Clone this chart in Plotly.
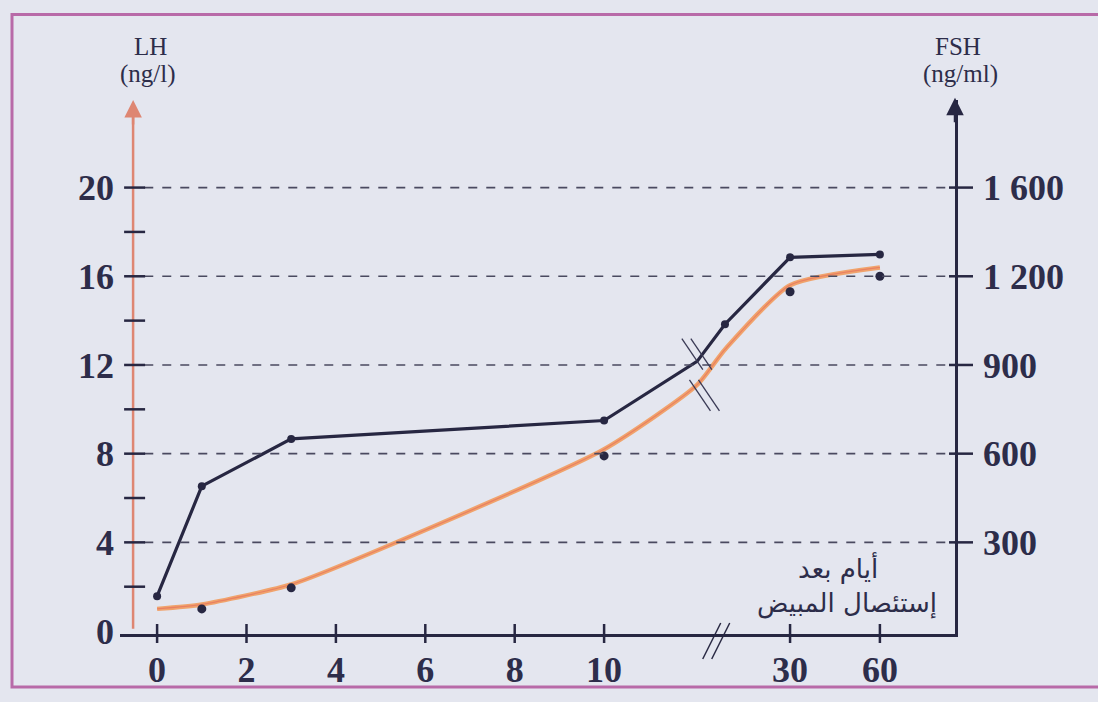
import numpy as np
import plotly.graph_objects as go

# ---- data -------------------------------------------------------------
# days after ovariectomy
fsh_days = [0, 1, 3, 10, 20, 23, 30, 60]
fsh_values = [118, 490, 650, 712, 912, 1038, 1264, 1274]      # ng/ml
fsh_marked = [True, True, True, True, False, True, True, True]

lh_curve_days = [0, 1, 3, 5, 10, 20, 23, 30, 60]
lh_curve_values = [1.0, 1.2, 2.1, 3.7, 8.2, 11.1, 12.7, 15.6, 16.4]  # ng/l
lh_point_days = [1, 3, 10, 30, 60]
lh_point_values = [1.0, 1.95, 7.9, 15.3, 16.0]

x_tick_days = [0, 2, 4, 6, 8, 10, 30, 60]
lh_ticks = [0, 4, 8, 12, 16, 20]
lh_minor = [2, 6, 10, 14, 18]
fsh_ticks = [300, 600, 900, 1200, 1500]
fsh_ticktext = ["300", "600", "900", "1 200", "1 600"]

# ---- broken time scale -----------------------------------------------
POS_30, POS_60 = 14.16, 16.17
BREAK_DAY = 20


def axis_pos(d):
    d = np.asarray(d, dtype=float)
    return np.where(
        d <= 10, d,
        np.where(d <= 30, 10 + (d - 10) * (POS_30 - 10) / 20,
                 POS_30 + (d - 30) * (POS_60 - POS_30) / 30))


FSH_PER_LH = 75.0          # right scale versus left scale
Y_RANGE = [-0.133, 23.95]
X_RANGE = [-0.83, 17.85]
LEFT_AXIS_X = -0.537

NAVY = "#272742"
ORANGE = "#f0a36c"
ORANGE_AXIS = "#de8672"
TXT = "#2d2d4a"
BG = "#e4e6ef"
SERIF = "Liberation Serif"


def px_x(px):
    return (px - 120) / 835


def px_y(py):
    return (643 - py) / 543


fig = go.Figure()

# LH: smoothed curve plus measured points
fig.add_trace(go.Scatter(
    x=axis_pos(lh_curve_days), y=lh_curve_values, mode="lines",
    line=dict(color=ORANGE, width=4.5, shape="spline", smoothing=0.6),
    hoverinfo="skip", showlegend=False))
fig.add_trace(go.Scatter(
    x=axis_pos(lh_curve_days), y=lh_curve_values, mode="lines",
    line=dict(color="#e98062", width=1.2, shape="spline", smoothing=0.6),
    hoverinfo="skip", showlegend=False))
fig.add_trace(go.Scatter(
    x=axis_pos(lh_point_days), y=lh_point_values, mode="markers",
    marker=dict(color=NAVY, size=9), showlegend=False))

# FSH on the right-hand axis
fig.add_trace(go.Scatter(
    x=axis_pos(fsh_days), y=fsh_values, mode="lines", yaxis="y2",
    line=dict(color=NAVY, width=3.2), showlegend=False))
fig.add_trace(go.Scatter(
    x=axis_pos([d for d, m in zip(fsh_days, fsh_marked) if m]),
    y=[v for v, m in zip(fsh_values, fsh_marked) if m],
    mode="markers", yaxis="y2",
    marker=dict(color=NAVY, size=8), showlegend=False))

shapes = []

# dashed horizontal guides
for v in lh_ticks[1:]:
    shapes.append(dict(type="line", xref="x", yref="y",
                       x0=LEFT_AXIS_X + 0.25, x1=X_RANGE[1], y0=v, y1=v,
                       line=dict(color="#4a4a60", width=1.6, dash="dash")))

# left (LH) axis line
shapes.append(dict(type="line", xref="x", yref="y", x0=LEFT_AXIS_X,
                   x1=LEFT_AXIS_X, y0=0.1, y1=Y_RANGE[1] - 0.6,
                   line=dict(color=ORANGE_AXIS, width=2.5)))
# left ticks crossing the axis
for v in lh_ticks + lh_minor:
    if v == 0:
        continue
    shapes.append(dict(type="line", xref="x", yref="y", xsizemode="pixel",
                       xanchor=LEFT_AXIS_X, x0=-9, x1=12, y0=v, y1=v,
                       line=dict(color=NAVY, width=2.5)))
# right ticks
for v in fsh_ticks:
    shapes.append(dict(type="line", xref="paper", yref="y2",
                       xsizemode="pixel", xanchor=1, x0=-6, x1=18,
                       y0=v, y1=v, line=dict(color=NAVY, width=2.5)))
# x ticks crossing the time axis
for d in x_tick_days:
    p = float(axis_pos(d))
    shapes.append(dict(type="line", xref="x", yref="paper",
                       ysizemode="pixel", yanchor=0, y0=-9, y1=10,
                       x0=p, x1=p, line=dict(color=NAVY, width=2.5)))

# "//" break on the time axis
bp = float(axis_pos(BREAK_DAY)) + 0.35
for dx in (0, 9):
    shapes.append(dict(type="line", xref="x", yref="paper",
                       xsizemode="pixel", ysizemode="pixel",
                       xanchor=bp, yanchor=0,
                       x0=-10 + dx, x1=8 + dx, y0=-25, y1=11,
                       line=dict(color=NAVY, width=1.5)))

# break marks across both curves
bx = float(axis_pos(BREAK_DAY))
fsh_break = float(np.interp(BREAK_DAY, fsh_days, fsh_values)) / FSH_PER_LH
lh_break = float(np.interp(BREAK_DAY, lh_curve_days, lh_curve_values))
for anchor_y, shift in ((fsh_break + 0.35, -0.05), (lh_break - 0.45, 0.12)):
    for dx in (0, 9):
        shapes.append(dict(type="line", xref="x", yref="y",
                           xsizemode="pixel", ysizemode="pixel",
                           xanchor=bx + shift, yanchor=anchor_y,
                           x0=-13 + dx, x1=8 + dx, y0=15, y1=-16,
                           line=dict(color="#3a3a55", width=1.3)))

# page frame
shapes.append(dict(type="rect", xref="paper", yref="paper",
                   x0=px_x(12), x1=px_x(1112), y0=px_y(697), y1=px_y(13),
                   line=dict(color="#b86aa8", width=3)))

title_font = dict(family=SERIF, size=25, color=TXT)
arabic_font = dict(family="DejaVu Sans", size=26, color=TXT)

annotations = [
    # arrow heads on both vertical axes
    dict(xref="x", yref="paper", x=LEFT_AXIS_X, y=1.0, ax=0, ay=26,
         text="", showarrow=True, arrowhead=2, arrowsize=1.4,
         arrowwidth=2.5, arrowcolor=ORANGE_AXIS, standoff=0),
    dict(xref="paper", yref="paper", x=1.0, y=1.004, ax=0, ay=26,
         text="", showarrow=True, arrowhead=2, arrowsize=1.4,
         arrowwidth=2.5, arrowcolor=NAVY, standoff=0),
    # axis titles
    dict(xref="paper", yref="paper", x=px_x(150), y=px_y(46),
         xanchor="center", yanchor="middle",
         text="LH", showarrow=False, font=title_font),
    dict(xref="paper", yref="paper", x=px_x(148), y=px_y(74),
         xanchor="center", yanchor="middle",
         text="(ng/l)", showarrow=False, font=title_font),
    dict(xref="paper", yref="paper", x=px_x(958), y=px_y(46),
         xanchor="center", yanchor="middle",
         text="FSH", showarrow=False, font=title_font),
    dict(xref="paper", yref="paper", x=px_x(960), y=px_y(74),
         xanchor="center", yanchor="middle",
         text="(ng/ml)", showarrow=False, font=title_font),
    # time-axis caption
    dict(xref="paper", yref="paper", x=px_x(838), y=px_y(575),
         xanchor="center", yanchor="middle",
         text="أيام بعد", showarrow=False, font=arabic_font),
    dict(xref="paper", yref="paper", x=px_x(847), y=px_y(612),
         xanchor="center", yanchor="middle",
         text="إستئصال المبيض", showarrow=False, font=arabic_font),
]

tick_font = dict(family=SERIF, size=36, color=TXT, weight="bold")

fig.update_layout(
    width=1098, height=702,
    margin=dict(l=120, r=143, t=100, b=59),
    paper_bgcolor=BG, plot_bgcolor=BG,
    xaxis=dict(range=X_RANGE, tickvals=[float(axis_pos(d)) for d in x_tick_days],
               ticktext=[str(d) for d in x_tick_days], ticks="",
               showgrid=False, zeroline=False, showline=True,
               linecolor=NAVY, linewidth=2.5, tickfont=tick_font,
               ticklabelstandoff=2),
    yaxis=dict(range=Y_RANGE, tickvals=lh_ticks,
               ticktext=[str(v) for v in lh_ticks], ticks="",
               showgrid=False, zeroline=False, showline=False,
               tickfont=tick_font, ticklabelstandoff=5),
    yaxis2=dict(range=[Y_RANGE[0] * FSH_PER_LH, Y_RANGE[1] * FSH_PER_LH],
                overlaying="y", side="right", tickvals=fsh_ticks,
                ticktext=fsh_ticktext, ticks="", showgrid=False,
                zeroline=False, showline=True, linecolor=NAVY, linewidth=2.5,
                tickfont=tick_font, ticklabelstandoff=18),
    shapes=shapes, annotations=annotations,
)

fig.write_html("out.html")
